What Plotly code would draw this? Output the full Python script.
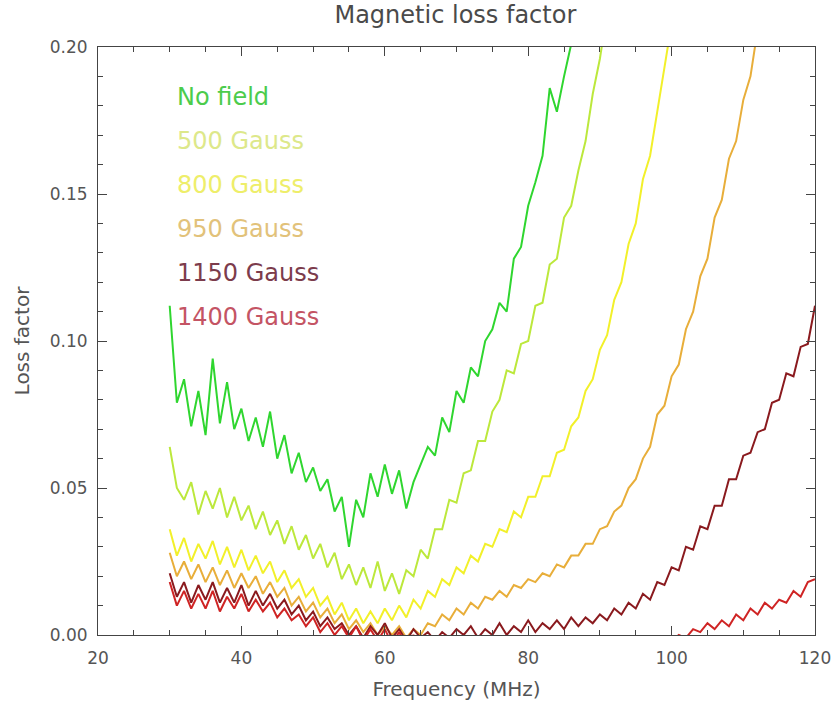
import plotly.graph_objects as go

# Frequency axis (MHz), 1 MHz sampling
freq = list(range(30, 121))

no_field = [0.112, 0.079, 0.087, 0.071, 0.083, 0.068, 0.094, 0.072, 0.086, 0.070,
            0.077, 0.066, 0.074, 0.064, 0.076, 0.060, 0.068, 0.055, 0.062, 0.052,
            0.057, 0.049, 0.053, 0.042, 0.047, 0.030, 0.046, 0.040, 0.055, 0.047,
            0.058, 0.048, 0.056, 0.043, 0.052, 0.058, 0.064, 0.061, 0.074, 0.069,
            0.083, 0.079, 0.091, 0.088, 0.100, 0.104, 0.113, 0.110, 0.128, 0.132,
            0.146, 0.154, 0.163, 0.186, 0.178, 0.190, 0.201, 0.215]

gauss_500 = [0.064, 0.050, 0.046, 0.052, 0.041, 0.049, 0.043, 0.050, 0.040, 0.047,
             0.039, 0.044, 0.036, 0.042, 0.034, 0.039, 0.031, 0.037, 0.029, 0.034,
             0.026, 0.031, 0.023, 0.028, 0.019, 0.024, 0.017, 0.023, 0.016, 0.025,
             0.015, 0.021, 0.014, 0.022, 0.020, 0.029, 0.026, 0.036, 0.036, 0.046,
             0.045, 0.055, 0.056, 0.066, 0.066, 0.076, 0.080, 0.090, 0.089, 0.099,
             0.100, 0.112, 0.113, 0.126, 0.128, 0.142, 0.146, 0.158, 0.168, 0.184,
             0.196, 0.212]

gauss_800 = [0.036, 0.027, 0.033, 0.025, 0.031, 0.026, 0.032, 0.024, 0.030, 0.023,
             0.029, 0.022, 0.027, 0.021, 0.025, 0.018, 0.022, 0.016, 0.019, 0.013,
             0.016, 0.010, 0.013, 0.007, 0.011, 0.005, 0.009, 0.004, 0.008, 0.004,
             0.009, 0.005, 0.010, 0.006, 0.012, 0.009, 0.015, 0.013, 0.019, 0.017,
             0.023, 0.021, 0.027, 0.025, 0.031, 0.030, 0.036, 0.035, 0.042, 0.040,
             0.047, 0.047, 0.054, 0.054, 0.062, 0.063, 0.071, 0.074, 0.083, 0.087,
             0.097, 0.102, 0.114, 0.120, 0.133, 0.140, 0.155, 0.163, 0.178, 0.192,
             0.208]

gauss_950 = [0.028, 0.020, 0.025, 0.019, 0.024, 0.018, 0.023, 0.017, 0.022, 0.016,
             0.021, 0.016, 0.020, 0.014, 0.018, 0.013, 0.016, 0.010, 0.013, 0.008,
             0.011, 0.006, 0.009, 0.004, 0.007, 0.002, 0.005, 0.001, 0.004, 0.000,
             0.003, 0.000, 0.003, -0.001, 0.002, 0.000, 0.004, 0.003, 0.007, 0.005,
             0.009, 0.007, 0.011, 0.009, 0.013, 0.012, 0.015, 0.013, 0.017, 0.016,
             0.019, 0.018, 0.021, 0.020, 0.024, 0.023, 0.027, 0.027, 0.031, 0.031,
             0.036, 0.037, 0.042, 0.044, 0.050, 0.053, 0.060, 0.064, 0.075, 0.078,
             0.088, 0.092, 0.104, 0.110, 0.122, 0.128, 0.142, 0.148, 0.162, 0.168,
             0.182, 0.190, 0.206]

gauss_1150 = [0.021, 0.013, 0.018, 0.011, 0.017, 0.012, 0.018, 0.011, 0.016, 0.011,
              0.017, 0.010, 0.015, 0.010, 0.014, 0.009, 0.012, 0.007, 0.010, 0.005,
              0.008, 0.003, 0.006, 0.002, 0.004, 0.000, 0.003, -0.001, 0.003, 0.000,
              0.004, -0.001, 0.002, -0.002, 0.002, -0.001, 0.001, -0.002, 0.001, -0.001,
              0.002, 0.000, 0.003, -0.001, 0.002, 0.000, 0.004, 0.000, 0.003, 0.001,
              0.005, 0.001, 0.004, 0.002, 0.005, 0.002, 0.006, 0.003, 0.006, 0.004,
              0.007, 0.005, 0.009, 0.007, 0.011, 0.009, 0.014, 0.012, 0.018, 0.017,
              0.023, 0.022, 0.030, 0.029, 0.037, 0.036, 0.044, 0.044, 0.053, 0.053,
              0.061, 0.062, 0.069, 0.070, 0.079, 0.080, 0.089, 0.088, 0.098, 0.099,
              0.112]

gauss_1400 = [0.018, 0.010, 0.015, 0.009, 0.014, 0.009, 0.015, 0.008, 0.013, 0.009,
              0.014, 0.008, 0.012, 0.008, 0.011, 0.006, 0.009, 0.005, 0.007, 0.003,
              0.006, 0.001, 0.004, 0.000, 0.003, -0.001, 0.003, -0.002, 0.002, -0.002,
              0.002, -0.003, 0.001, -0.004, 0.000, -0.005, -0.002, -0.006, -0.004, -0.007,
              -0.006, -0.009, -0.008, -0.010, -0.009, -0.011, -0.010, -0.012, -0.011, -0.012,
              -0.011, -0.012, -0.011, -0.012, -0.011, -0.012, -0.011, -0.011, -0.010, -0.010,
              -0.009, -0.009, -0.008, -0.007, -0.007, -0.006, -0.005, -0.004, -0.004, -0.002,
              -0.002, 0.000, -0.001, 0.002, 0.001, 0.004, 0.002, 0.005, 0.003, 0.007,
              0.005, 0.009, 0.007, 0.011, 0.009, 0.012, 0.011, 0.015, 0.013, 0.018,
              0.019]

labels = ["No field", "500 Gauss", "800 Gauss", "950 Gauss", "1150 Gauss", "1400 Gauss"]
series = [no_field, gauss_500, gauss_800, gauss_950, gauss_1150, gauss_1400]
line_colors = ["#2fd62f", "#bce83c", "#f2f02a", "#e8ae3a", "#8a1a1e", "#cf2424"]
text_colors = ["#4ccc4c", "#dde88a", "#eeee6a", "#e2c27a", "#7c3c4c", "#c45464"]
label_y = [0.183, 0.168, 0.153, 0.138, 0.123, 0.108]

fig = go.Figure()
for name, vals, col in zip(labels, series, line_colors):
    fig.add_trace(go.Scatter(x=freq[:len(vals)], y=vals, mode="lines", name=name,
                             line=dict(color=col, width=2)))

for name, col, ly in zip(labels, text_colors, label_y):
    fig.add_annotation(x=30.7, y=ly, xref="x", yref="y", text=name, showarrow=False,
                       xanchor="left", yanchor="middle",
                       font=dict(family="DejaVu Sans", size=24, color=col))

axis_common = dict(showgrid=False, zeroline=False, showline=True, linecolor="#444",
                   linewidth=1, mirror="ticks", ticks="inside", tickcolor="#444",
                   automargin=False, ticklabeloverflow="allow",
                   tickfont=dict(family="DejaVu Sans", size=17, color="#555"))

fig.update_xaxes(range=[20, 120], dtick=20, tick0=20, ticklen=9, ticklabelstandoff=8,
                 minor=dict(dtick=5, ticklen=5, ticks="inside", tickcolor="#444"),
                 title=dict(text="Frequency (MHz)", standoff=14,
                            font=dict(family="DejaVu Sans", size=20, color="#555")),
                 **axis_common)
fig.update_yaxes(range=[0, 0.2], dtick=0.05, tick0=0, ticklen=9, tickformat=".2f",
                 ticklabelstandoff=6,
                 minor=dict(dtick=0.01, ticklen=5, ticks="inside", tickcolor="#444"),
                 title=dict(text="Loss factor", standoff=14,
                            font=dict(family="DejaVu Sans", size=20, color="#555")),
                 **axis_common)

fig.update_layout(
    width=834, height=706,
    margin=dict(l=98, r=19, t=47, b=71),
    paper_bgcolor="white", plot_bgcolor="white",
    showlegend=False,
    title=dict(text="Magnetic loss factor", x=0.546, xanchor="center",
               y=0.98, yanchor="middle",
               font=dict(family="DejaVu Sans", size=24, color="#4a4a4a")),
)

fig.write_html("out.html", config={"displayModeBar": False},
               post_script="document.body.style.margin='0';")
